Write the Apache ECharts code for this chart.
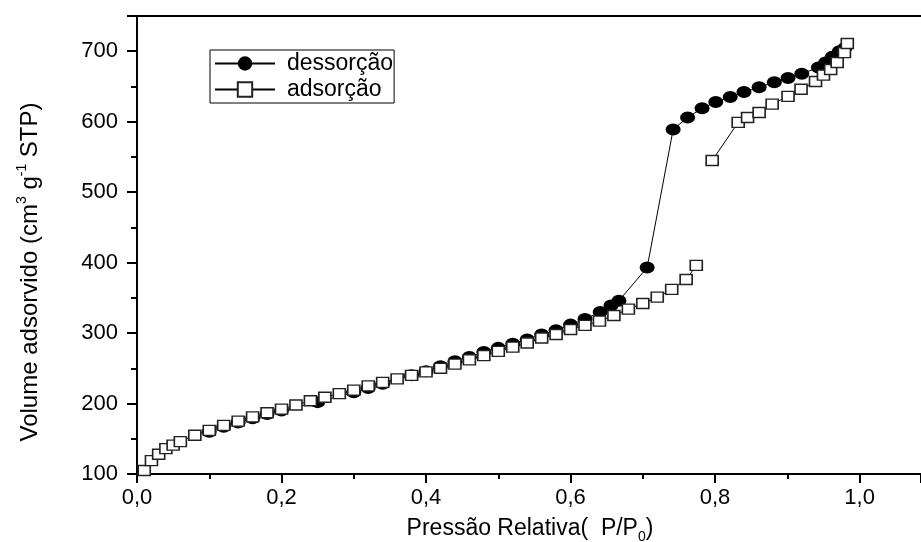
<!DOCTYPE html>
<html><head><meta charset="utf-8">
<script src="https://cdn.jsdelivr.net/npm/echarts@6/dist/echarts.min.js"></script>
<style>html,body{margin:0;padding:0;background:#fff}#c{width:921px;height:542px}</style>
</head><body><div id="c"></div>
<script>
// Relative pressure / adsorbed volume
const desP = [0.10,0.12,0.14,0.16,0.18,0.20,0.25,0.30,0.32,0.34,0.38,0.40,0.42,0.44,0.46,0.48,0.50,0.52,0.54,0.56,0.58,0.60,0.62,0.641,0.656,0.667,0.706,0.742,0.762,0.782,0.801,0.821,0.84,0.861,0.882,0.901,0.92,0.943,0.953,0.962,0.972,0.98];
const desV = [160,167,173,179,185,190,202,216,222,228,240,246,253,260,266,273,279,285,291,298,304,312,320,330,339,346,393,589,606,619,628,635,642,649,656,662,668,677,684,692,700,705];
const adsP = [0.01,0.02,0.03,0.04,0.05,0.06,0.08,0.10,0.12,0.14,0.16,0.18,0.20,0.22,0.24,0.26,0.28,0.30,0.32,0.34,0.36,0.38,0.40,0.42,0.44,0.46,0.48,0.50,0.52,0.54,0.56,0.58,0.60,0.62,0.64,0.66,0.68,0.70,0.72,0.74,0.76,0.774,null,0.796,0.832,0.845,0.861,0.879,0.901,0.919,0.939,0.95,0.96,0.969,0.979,0.983];
const adsV = [105,119,128,136,141,146,155,162,169,175,181,187,192,198,204,209,214,219,225,230,235,240,245,250,256,262,268,274,280,286,293,298,305,311,317,325,334,342,351,362,376,396,null,545,599,606,613,625,636,646,657,666,674,684,698,711];
const xTickLabels = ['0,0','0,2','0,4','0,6','0,8','1,0'];
const yTickLabels = ['100','200','300','400','500','600','700'];
const seriesNames = ['dessorção','adsorção'];

const FONT = '"Liberation Sans", Arial, sans-serif';
function pairs(xs, ys){ return xs.map((x,i)=> (x===null||ys[i]===null) ? ['-','-'] : [x, ys[i]]); }

const chart = echarts.init(document.getElementById('c'), null, {renderer:'canvas'});
chart.setOption({
  animation:false,
  backgroundColor:'#fff',
  grid:{left:137, right:0, top:16, bottom:68, outerBoundsMode:'none'},
  legend:{
    orient:'vertical', left:210, top:50,
    data: seriesNames,
    itemWidth:60, itemHeight:18, itemGap:3,
    borderColor:'#000', borderWidth:1, padding:[2,1,2,4],
    textStyle:{fontFamily:FONT, fontSize:23, lineHeight:22, color:'#000', padding:[0,0,0,7]}
  },
  xAxis:[{
    type:'value', min:0, max:1.085, interval:0.2,
    axisLine:{show:true, onZero:false, lineStyle:{color:'#000', width:2}},
    axisTick:{show:true, length:9, inside:false, lineStyle:{color:'#000', width:2}},
    minorTick:{show:true, splitNumber:2, length:5, lineStyle:{color:'#000', width:2}},
    splitLine:{show:false},
    axisLabel:{fontFamily:FONT, fontSize:22, color:'#000', margin:13, showMaxLabel:false,
      formatter:(v)=>{ const i=Math.round(v/0.2); return Math.abs(v-i*0.2)<1e-6 ? xTickLabels[i] : ''; }}
  },{
    type:'value', position:'top', min:0, max:1.085,
    axisLine:{show:true, onZero:false, lineStyle:{color:'#000', width:2}},
    axisTick:{show:false}, axisLabel:{show:false}, splitLine:{show:false}
  }],
  yAxis:{
    type:'value', min:100, max:750, interval:100,
    axisLine:{show:true, onZero:false, lineStyle:{color:'#000', width:2}},
    axisTick:{show:true, length:10, lineStyle:{color:'#000', width:2}},
    minorTick:{show:true, splitNumber:2, length:6, lineStyle:{color:'#000', width:2}},
    splitLine:{show:false},
    axisLabel:{fontFamily:FONT, fontSize:22, color:'#000', margin:19, showMaxLabel:false,
      formatter:(v)=>{ const i=Math.round((v-100)/100); return yTickLabels[i] || ''; }}
  },
  graphic:[
    {type:'text', x:530, y:529, silent:true, style:{
      text:'{a|Pressão Relativa(  P/P}{s|0}{a|)}', align:'center', verticalAlign:'middle',
      rich:{a:{fontFamily:FONT, fontSize:23, fill:'#000', lineHeight:30},
            s:{fontFamily:FONT, fontSize:14, fill:'#000', lineHeight:8, verticalAlign:'bottom'}}
    }},
    {type:'text', x:30, y:272, rotation:Math.PI/2, silent:true, style:{
      text:'{a|Volume adsorvido (cm}{p|3}{a| g}{p|-1}{a| STP)}', align:'center', verticalAlign:'middle',
      rich:{a:{fontFamily:FONT, fontSize:24, fill:'#000', lineHeight:30},
            p:{fontFamily:FONT, fontSize:14, fill:'#000', lineHeight:10, verticalAlign:'top'}}
    }}
  ],
  series:[
    {name:seriesNames[0], type:'line', data:pairs(desP, desV),
     symbol:'circle', symbolSize:[15,12], showAllSymbol:true,
     lineStyle:{color:'#000', width:1}, itemStyle:{color:'#000', borderColor:'#000', borderWidth:0}},
    {name:seriesNames[1], type:'line', data:pairs(adsP, adsV), connectNulls:false,
     symbol:'rect', symbolSize:[12,10], showAllSymbol:true,
     lineStyle:{color:'#000', width:1}, itemStyle:{color:'#fff', borderColor:'#222', borderWidth:1.5}}
  ]
});
</script></body></html>
